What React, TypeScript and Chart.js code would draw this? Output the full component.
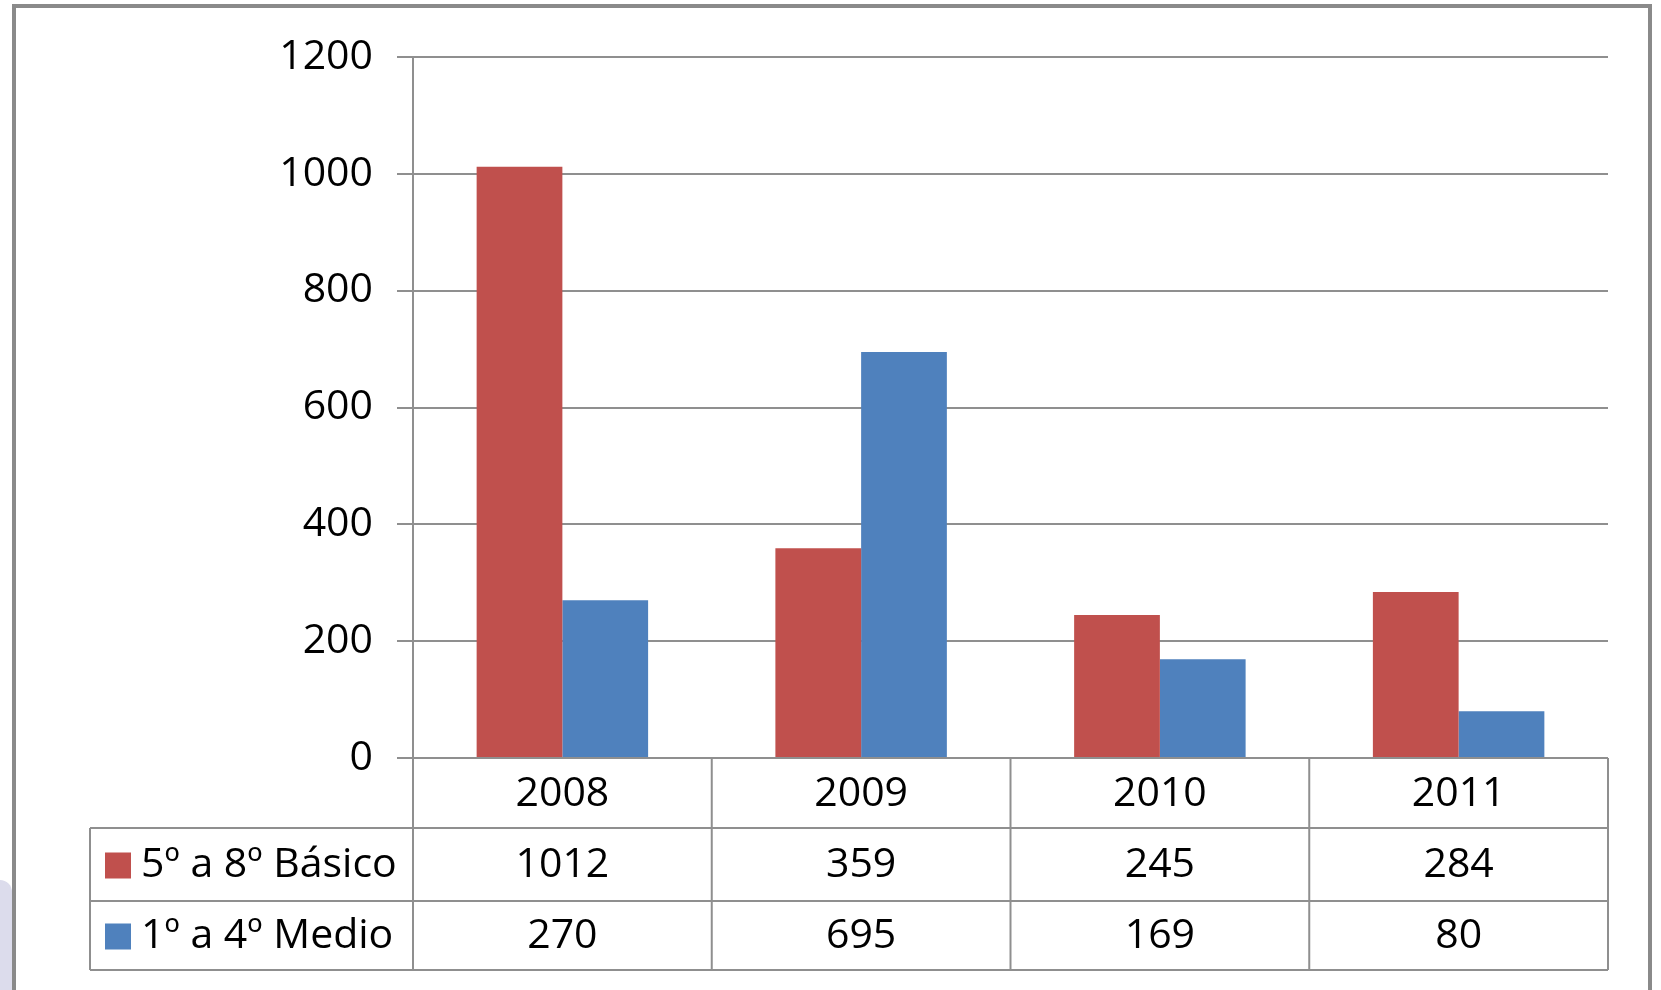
import React, { useEffect, useRef } from "react";
import { Chart, registerables } from "chart.js";

Chart.register(...registerables);

const categories = ["2008", "2009", "2010", "2011"];
const seriesNames = ["5º a 8º Básico", "1º a 4º Medio"];
const basicoValues = [1012, 359, 245, 284];
const medioValues = [270, 695, 169, 80];
const yMin = 0;
const yMax = 1200;
const yStep = 200;
const seriesColors = ["#C0504D", "#4F81BD"];

const W = 1661;
const H = 990;
const FONT = '"Open Sans", "Noto Sans", sans-serif';
const FONT_SIZE = 41;
const LINE = "#8f8f8f";

const seriesValues = [basicoValues, medioValues];

const tablePlugin = {
  id: "dataTable",
  afterDraw(chart: any) {
    const { ctx, chartArea, scales } = chart;
    const x = scales.x;
    const n = categories.length;
    const catW = (chartArea.right - chartArea.left) / n;
    const top = chartArea.bottom;
    const rowH = [70, 73, 69];
    const y1 = top + rowH[0];
    const y2 = y1 + rowH[1];
    const y3 = y2 + rowH[2];
    const legendLeft = 90;
    const bounds: number[] = [];
    for (let i = 0; i < n; i++) bounds.push(x.getPixelForValue(i) - catW / 2);
    bounds.push(x.getPixelForValue(n - 1) + catW / 2);

    ctx.save();
    ctx.strokeStyle = LINE;
    ctx.lineWidth = 2;
    ctx.beginPath();
    bounds.forEach((bx) => {
      ctx.moveTo(bx, top);
      ctx.lineTo(bx, y3);
    });
    ctx.moveTo(legendLeft, y1);
    ctx.lineTo(legendLeft, y3);
    [y1, y2, y3].forEach((yy) => {
      ctx.moveTo(legendLeft, yy);
      ctx.lineTo(bounds[n], yy);
    });
    ctx.stroke();

    ctx.fillStyle = "#000";
    ctx.font = `${FONT_SIZE}px ${FONT}`;
    ctx.textAlign = "center";
    ctx.textBaseline = "middle";
    categories.forEach((c, i) => {
      ctx.fillText(c, x.getPixelForValue(i), top + rowH[0] / 2 + 1);
    });
    const rowTops = [y1, y2];
    seriesValues.forEach((vals, s) => {
      const cy = rowTops[s] + rowH[s + 1] / 2 + 1;
      vals.forEach((v, i) => {
        ctx.fillStyle = "#000";
        ctx.fillText(String(v), x.getPixelForValue(i), cy);
      });
      ctx.fillStyle = seriesColors[s];
      ctx.fillRect(legendLeft + 15, cy - 13, 26, 26);
      ctx.fillStyle = "#000";
      ctx.textAlign = "left";
      ctx.fillText(seriesNames[s], legendLeft + 51, cy);
      ctx.textAlign = "center";
    });
    ctx.restore();
  },
};

export default function App() {
  const ref = useRef<HTMLCanvasElement | null>(null);

  useEffect(() => {
    if (!ref.current) return;
    const chart = new Chart(ref.current, {
      type: "bar",
      data: {
        labels: categories,
        datasets: seriesNames.map((name, s) => ({
          label: name,
          data: seriesValues[s],
          backgroundColor: seriesColors[s],
          borderWidth: 0,
          categoryPercentage: 0.574,
          barPercentage: 1,
        })),
      },
      options: {
        animation: false,
        responsive: false,
        layout: { padding: { top: 57, right: 53, bottom: 232, left: 0 } },
        plugins: { legend: { display: false }, tooltip: { enabled: false } },
        scales: {
          x: {
            display: false,
            offset: true,
            grid: { display: false },
          },
          y: {
            min: yMin,
            max: yMax,
            ticks: {
              stepSize: yStep,
              color: "#000",
              padding: 24,
              font: { family: FONT, size: FONT_SIZE },
              callback: (v: any) => String(v),
            },
            grid: {
              color: LINE,
              lineWidth: 2,
              tickLength: 16,
              drawTicks: true,
            },
            border: { display: true, color: LINE, width: 2 },
            afterFit(scale: any) {
              scale.width = 413;
            },
          },
        },
      },
      plugins: [tablePlugin],
    });
    return () => chart.destroy();
  }, []);

  return (
    <div style={{ position: "absolute", left: 0, top: 0, width: W, height: H, overflow: "hidden", background: "#fff" }}>
      <div
        style={{
          position: "absolute",
          left: 0,
          top: 880,
          width: 12,
          height: 110,
          background: "#dcdcec",
          borderRadius: "0 40px 0 0",
        }}
      />
      <div
        style={{
          position: "absolute",
          left: 12,
          top: 4,
          width: 1640,
          height: 1100,
          border: "4px solid #8a8a8a",
          borderBottom: "none",
          boxSizing: "border-box",
        }}
      />
      <canvas ref={ref} width={W} height={H} style={{ position: "absolute", left: 0, top: 0, width: W, height: H }} />
    </div>
  );
}
